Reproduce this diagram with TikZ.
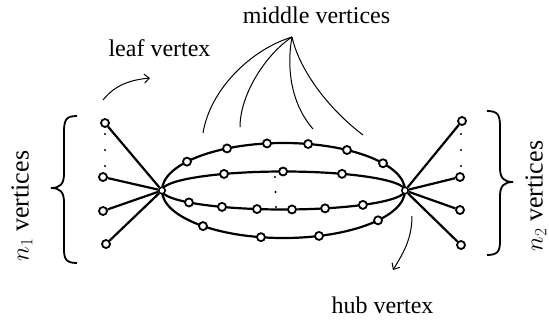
\documentclass[tikz,border=0pt]{standalone}
\usepackage{fontspec}
\setmainfont{Liberation Serif}
\usetikzlibrary{arrows.meta,calc}
\begin{document}
\begin{tikzpicture}[x=1pt,y=-1pt,
  v/.style={circle,draw,fill=white,line width=1.8pt,inner sep=0pt,minimum size=8pt},
  hub/.style={circle,draw,fill=white,line width=1.5pt,inner sep=0pt,minimum size=6.5pt},
  edge/.style={line width=2.2pt},
  pointer/.style={line width=1pt},
  dotv/.style={circle,fill=black,inner sep=0pt,minimum size=2.4pt},
  lbl/.style={font=\fontsize{24}{28}\selectfont,inner sep=0pt},
  sidelbl/.style={font=\fontsize{26}{30}\selectfont,inner sep=0pt,rotate=90},
  bracestyle/.style={line width=1.8pt}]
\useasboundingbox (0,0) rectangle (549,322);

% ellipses
\draw[edge] (283.5,190.5) ellipse [x radius=121.5, y radius=47.5];
\draw[edge] (283.5,190.5) ellipse [x radius=121.5, y radius=19];

% hubs
\node[hub] (hl) at (162,190.5) {};
\node[hub] (hr) at (405,190.5) {};

% outer top
\foreach \t [count=\i] in {142.6,117.7,97.8,78.3,58.5,35.0}
  \node[v] (ot\i) at ({283.5+121.5*cos(\t)},{190.5-47.5*sin(\t)}) {};
% inner top
\foreach \t [count=\i] in {119.3,90.2,61.2}
  \node[v] (it\i) at ({283.5+121.5*cos(\t)},{190.5-19*sin(\t)}) {};
% inner bottom
\foreach \t [count=\i] in {-141.1,-120.4,-102.6,-86.0,-70.0,-49.2}
  \node[v] (ib\i) at ({283.5+121.5*cos(\t)},{190.5-19*sin(\t)}) {};
% outer bottom
\foreach \t [count=\i] in {-131.5,-100.7,-73.0,-38.9}
  \node[v] (ob\i) at ({283.5+121.5*cos(\t)},{190.5-47.5*sin(\t)}) {};

% middle dots
\node[dotv] (md1) at (275,177) {};
\node[dotv] (md2) at (275.5,192) {};
\node[dotv] (md3) at (276,207) {};

% leaves
\node[v] (l1) at (105,123) {};
\node[v] (l2) at (103,177) {};
\node[v] (l3) at (103,211) {};
\node[v] (l4) at (106,244) {};
\node[v] (r1) at (462,121) {};
\node[v] (r2) at (460,177) {};
\node[v] (r3) at (460,210) {};
\node[v] (r4) at (461,245) {};
\foreach \y [count=\i] in {134,150,166} {
  \node[dotv] (ld\i) at (105,\y) {};
  \node[dotv] (rd\i) at (461,\y) {};
}

\foreach \n in {l1,l2,l3,l4} \draw[edge] (hl) -- (\n);
\foreach \n in {r1,r2,r3,r4} \draw[edge] (hr) -- (\n);

% braces
\draw[bracestyle] (77,116) .. controls (66,116) and (64,120) .. (64,132) -- (64,174)
  .. controls (64,184) and (60,188) .. (51,188)
  .. controls (60,188) and (64,192) .. (64,202) -- (64,249)
  .. controls (64,259) and (66,263) .. (77,263);
\draw[bracestyle] (487,111) .. controls (498,111) and (500,115) .. (500,127) -- (500,168)
  .. controls (500,178) and (504,182) .. (513,182)
  .. controls (504,182) and (500,186) .. (500,196) -- (500,241)
  .. controls (500,251) and (498,255) .. (487,255);

% labels
\node[lbl,anchor=base] (mv) at (316.5,23) {middle vertices};
\node[lbl,anchor=base] (lv) at (159.5,56) {leaf vertex};
\node[lbl,anchor=base] (hv) at (382.5,313) {hub vertex};
\node[sidelbl] (n1) at (22,206) {$n_1$ vertices};
\node[sidelbl] (n2) at (536,196) {$n_2$ vertices};

% pointers
\coordinate (apex) at (292,37);
\coordinate (m1) at (203,133);
\coordinate (m2) at (240,127);
\coordinate (m3) at (313,129);
\coordinate (m4) at (363,135);
\draw[pointer] (apex) .. controls (250,50) and (210,90) .. (m1);
\draw[pointer] (apex) .. controls (265,55) and (240,95) .. (m2);
\draw[pointer] (apex) .. controls (286,70) and (292,105) .. (m3);
\draw[pointer] (apex) .. controls (300,72) and (330,110) .. (m4);

\coordinate (la0) at (103,100);
\coordinate (la1) at (150,78);
\draw[pointer,-{Straight Barb[length=5pt,width=9pt]}] (la0) .. controls (115,85) and (130,80) .. (la1);
\coordinate (ha0) at (412,216);
\coordinate (ha1) at (393,270);
\draw[pointer,-{Straight Barb[length=5pt,width=9pt]}] (ha0) .. controls (412,240) and (402,255) .. (ha1);
\end{tikzpicture}
\end{document}
